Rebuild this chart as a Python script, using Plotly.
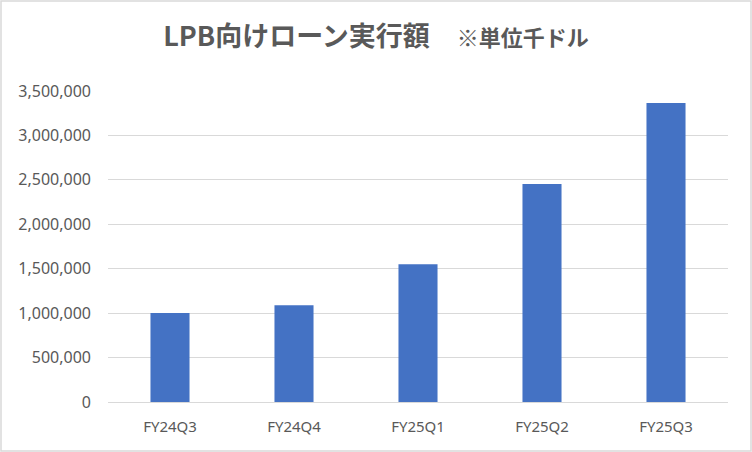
import plotly.graph_objects as go

# LPB向けローン実行額（千ドル）
quarters = ["FY24Q3", "FY24Q4", "FY25Q1", "FY25Q2", "FY25Q3"]
loan_amounts = [1003000, 1089000, 1551000, 2452000, 3364000]
y_ticks = [0, 500000, 1000000, 1500000, 2000000, 2500000, 3000000, 3500000]

W, H = 752, 452
left, right, top, bottom = 108, 24, 91, 50

fig = go.Figure(
    go.Bar(
        x=quarters,
        y=loan_amounts,
        marker=dict(color="#4472C4", line=dict(width=0)),
    )
)

fig.update_layout(
    width=W,
    height=H,
    margin=dict(l=left, r=right, t=top, b=bottom),
    paper_bgcolor="white",
    plot_bgcolor="white",
    bargap=0.685,
    showlegend=False,
    font=dict(family="Noto Sans, sans-serif", size=15, color="#595959"),
    title=dict(
        text="<b>LPB向けローン実行額<span style='font-size:22px'>　 ※単位千ドル</span></b>",
        font=dict(family="Noto Sans CJK JP", size=27, color="#595959"),
        x=0.5,
        xanchor="center",
        y=1 - 37 / H,
        yanchor="middle",
    ),
)

fig.update_yaxes(
    range=[0, 3500000],
    tickvals=y_ticks,
    tickformat=",",
    tickfont=dict(size=16),
    showgrid=True,
    gridcolor="#D9D9D9",
    gridwidth=1,
    zeroline=False,
    showline=False,
    ticks="",
    ticklabelstandoff=16,
)
fig.update_xaxes(
    showgrid=False,
    showline=True,
    linecolor="#D9D9D9",
    tickfont=dict(size=15),
    ticks="",
    ticklabelstandoff=11,
)

# outer chart border
pw = W - left - right
ph = H - top - bottom
fig.add_shape(
    type="rect",
    xref="paper",
    yref="paper",
    x0=(1 - left) / pw,
    x1=(W - 1 - left) / pw,
    y0=-(bottom - 1) / ph,
    y1=1 + (top - 1) / ph,
    line=dict(color="#D9D9D9", width=1.5),
    layer="below",
)

# the page keeps a default body margin; drop it so the chart fills the window
fig.write_html(
    "out.html",
    config={"displayModeBar": False},
    post_script="document.body.style.margin='0';",
)
